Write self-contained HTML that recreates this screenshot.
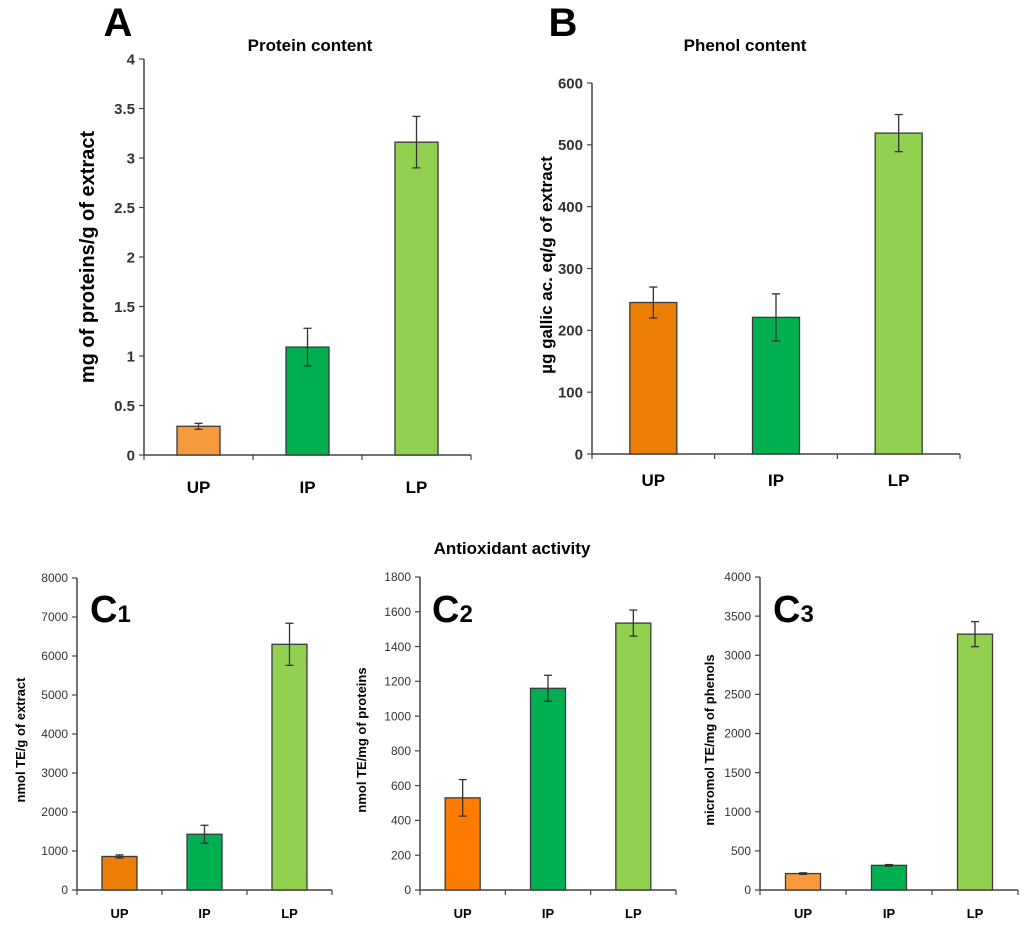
<!DOCTYPE html>
<html><head><meta charset="utf-8"><style>
body{margin:0;background:#fff;}
svg text{font-family:"Liberation Sans",sans-serif;}
</style></head><body>
<svg id="fig" width="1024" height="931" xmlns="http://www.w3.org/2000/svg">
<text x="118" y="36" font-size="40" font-weight="bold" text-anchor="middle">A</text>
<text x="563" y="36" font-size="40" font-weight="bold" text-anchor="middle">B</text>
<text x="310" y="51" font-size="17" font-weight="bold" text-anchor="middle">Protein content</text>
<text x="745" y="51" font-size="17" font-weight="bold" text-anchor="middle">Phenol content</text>
<text x="512" y="554" font-size="17" font-weight="bold" text-anchor="middle">Antioxidant activity</text>
<text x="90" y="622" font-size="38" font-weight="bold">C<tspan font-size="24">1</tspan></text>
<text x="432" y="622" font-size="38" font-weight="bold">C<tspan font-size="24">2</tspan></text>
<text x="773" y="622" font-size="38" font-weight="bold">C<tspan font-size="24">3</tspan></text>
</svg>
<script>
const categories = ["UP","IP","LP"];
const valuesA = [0.29, 1.09, 3.16];
const errA = [0.03, 0.19, 0.26];
const ticksA = ["0","0.5","1","1.5","2","2.5","3","3.5","4"];
const valuesB = [245, 221, 519];
const errB = [25, 38, 30];
const ticksB = ["0","100","200","300","400","500","600"];
const valuesC1 = [860, 1430, 6300];
const errC1 = [40, 230, 540];
const ticksC1 = ["0","1000","2000","3000","4000","5000","6000","7000","8000"];
const valuesC2 = [530, 1160, 1535];
const errC2 = [105, 75, 75];
const ticksC2 = ["0","200","400","600","800","1000","1200","1400","1600","1800"];
const valuesC3 = [210, 315, 3270];
const errC3 = [10, 10, 160];
const ticksC3 = ["0","500","1000","1500","2000","2500","3000","3500","4000"];

const NS="http://www.w3.org/2000/svg";
const svg=document.getElementById('fig');
function mk(tag,attrs,parent){const e=document.createElementNS(NS,tag);for(const k in attrs)e.setAttribute(k,attrs[k]);(parent||svg).appendChild(e);return e;}

function chart(cfg){
  const g=mk('g',{});
  
  
  const max=parseFloat(cfg.ticks[cfg.ticks.length-1]);
  const y=v=>cfg.y0-(v/max)*(cfg.y0-cfg.yTop);
  const n=categories.length, step=(cfg.x1-cfg.x0)/n;
  const x=i=>cfg.x0+step*(i+0.5);
  // axes
  const ya=mk('line',{x1:cfg.x0,y1:cfg.yTop,x2:cfg.x0,y2:cfg.y0,stroke:'#444','stroke-width':1.5},g);
  
  
  const xa=mk('line',{x1:cfg.x0,y1:cfg.y0,x2:cfg.x1,y2:cfg.y0,stroke:'#444','stroke-width':1.5},g);
  
  
  cfg.ticks.forEach(t=>{
    const yy=y(parseFloat(t));
    mk('line',{x1:cfg.x0-5,y1:yy,x2:cfg.x0,y2:yy,stroke:'#444','stroke-width':1.2},g);
    const tl=mk('text',{x:cfg.x0-9,y:yy+cfg.tfs*0.35,'font-size':cfg.tfs,'font-weight':cfg.tfw,fill:'#333','text-anchor':'end'},g);
    tl.textContent=t;
    
    
  });
  for(let i=0;i<=n;i++){const xx=cfg.x0+step*i;mk('line',{x1:xx,y1:cfg.y0,x2:xx,y2:cfg.y0+5,stroke:'#444','stroke-width':1.2},g);}
  categories.forEach((c,i)=>{
    const v=cfg.values[i],e=cfg.err[i];
    const r=mk('rect',{x:x(i)-cfg.bw/2,y:y(v),width:cfg.bw,height:cfg.y0-y(v),fill:cfg.colors[i],stroke:'#3a3a3a','stroke-width':1.3},g);
    
    
    const eg=mk('g',{stroke:'#333','stroke-width':1.3},g);
    
    
    mk('line',{x1:x(i),y1:y(v+e),x2:x(i),y2:y(v-e)},eg);
    mk('line',{x1:x(i)-4,y1:y(v+e),x2:x(i)+4,y2:y(v+e)},eg);
    mk('line',{x1:x(i)-4,y1:y(v-e),x2:x(i)+4,y2:y(v-e)},eg);
    const cl=mk('text',{x:x(i),y:cfg.y0+cfg.cly,'font-size':cfg.cfs,'font-weight':'bold','text-anchor':'middle'},g);
    cl.textContent=c;
    
    
  });
  const yt=mk('text',{x:0,y:0,'font-size':cfg.yfs,'font-weight':'bold','text-anchor':'middle',transform:`translate(${cfg.ytx},${cfg.yty}) rotate(-90)`},g);
  yt.textContent=cfg.ytitle;
  
  
}
chart({name:'chart-protein',values:valuesA,err:errA,ticks:ticksA,x0:144,x1:471,yTop:59,y0:455,bw:43,tfs:15,tfw:'bold',cfs:17,cly:38,yfs:20,ytx:94,yty:257,ytitle:'mg of proteins/g of extract',colors:['#f79a3e','#00b050','#92d050']});
chart({name:'chart-phenol',values:valuesB,err:errB,ticks:ticksB,x0:592,x1:960,yTop:83,y0:454,bw:47,tfs:15,tfw:'bold',cfs:17,cly:32,yfs:17,ytx:552,yty:265,ytitle:'µg gallic ac. eq/g of extract',colors:['#ec7d05','#00b050','#92d050']});
chart({name:'chart-c1',values:valuesC1,err:errC1,ticks:ticksC1,x0:77,x1:332,yTop:578,y0:890,bw:35,tfs:12,tfw:'normal',cfs:13,cly:28,yfs:13,ytx:25,yty:740,ytitle:'nmol TE/g of extract',colors:['#ec7d05','#00b050','#92d050']});
chart({name:'chart-c2',values:valuesC2,err:errC2,ticks:ticksC2,x0:420,x1:676,yTop:577,y0:890,bw:35,tfs:12,tfw:'normal',cfs:13,cly:28,yfs:13,ytx:366,yty:740,ytitle:'nmol TE/mg of proteins',colors:['#ff7c00','#00b050','#92d050']});
chart({name:'chart-c3',values:valuesC3,err:errC3,ticks:ticksC3,x0:760,x1:1018,yTop:577,y0:890,bw:35,tfs:12,tfw:'normal',cfs:13,cly:28,yfs:13,ytx:714,yty:740,ytitle:'micromol TE/mg of phenols',colors:['#f79a3e','#00b050','#92d050']});
</script>
</body></html>
